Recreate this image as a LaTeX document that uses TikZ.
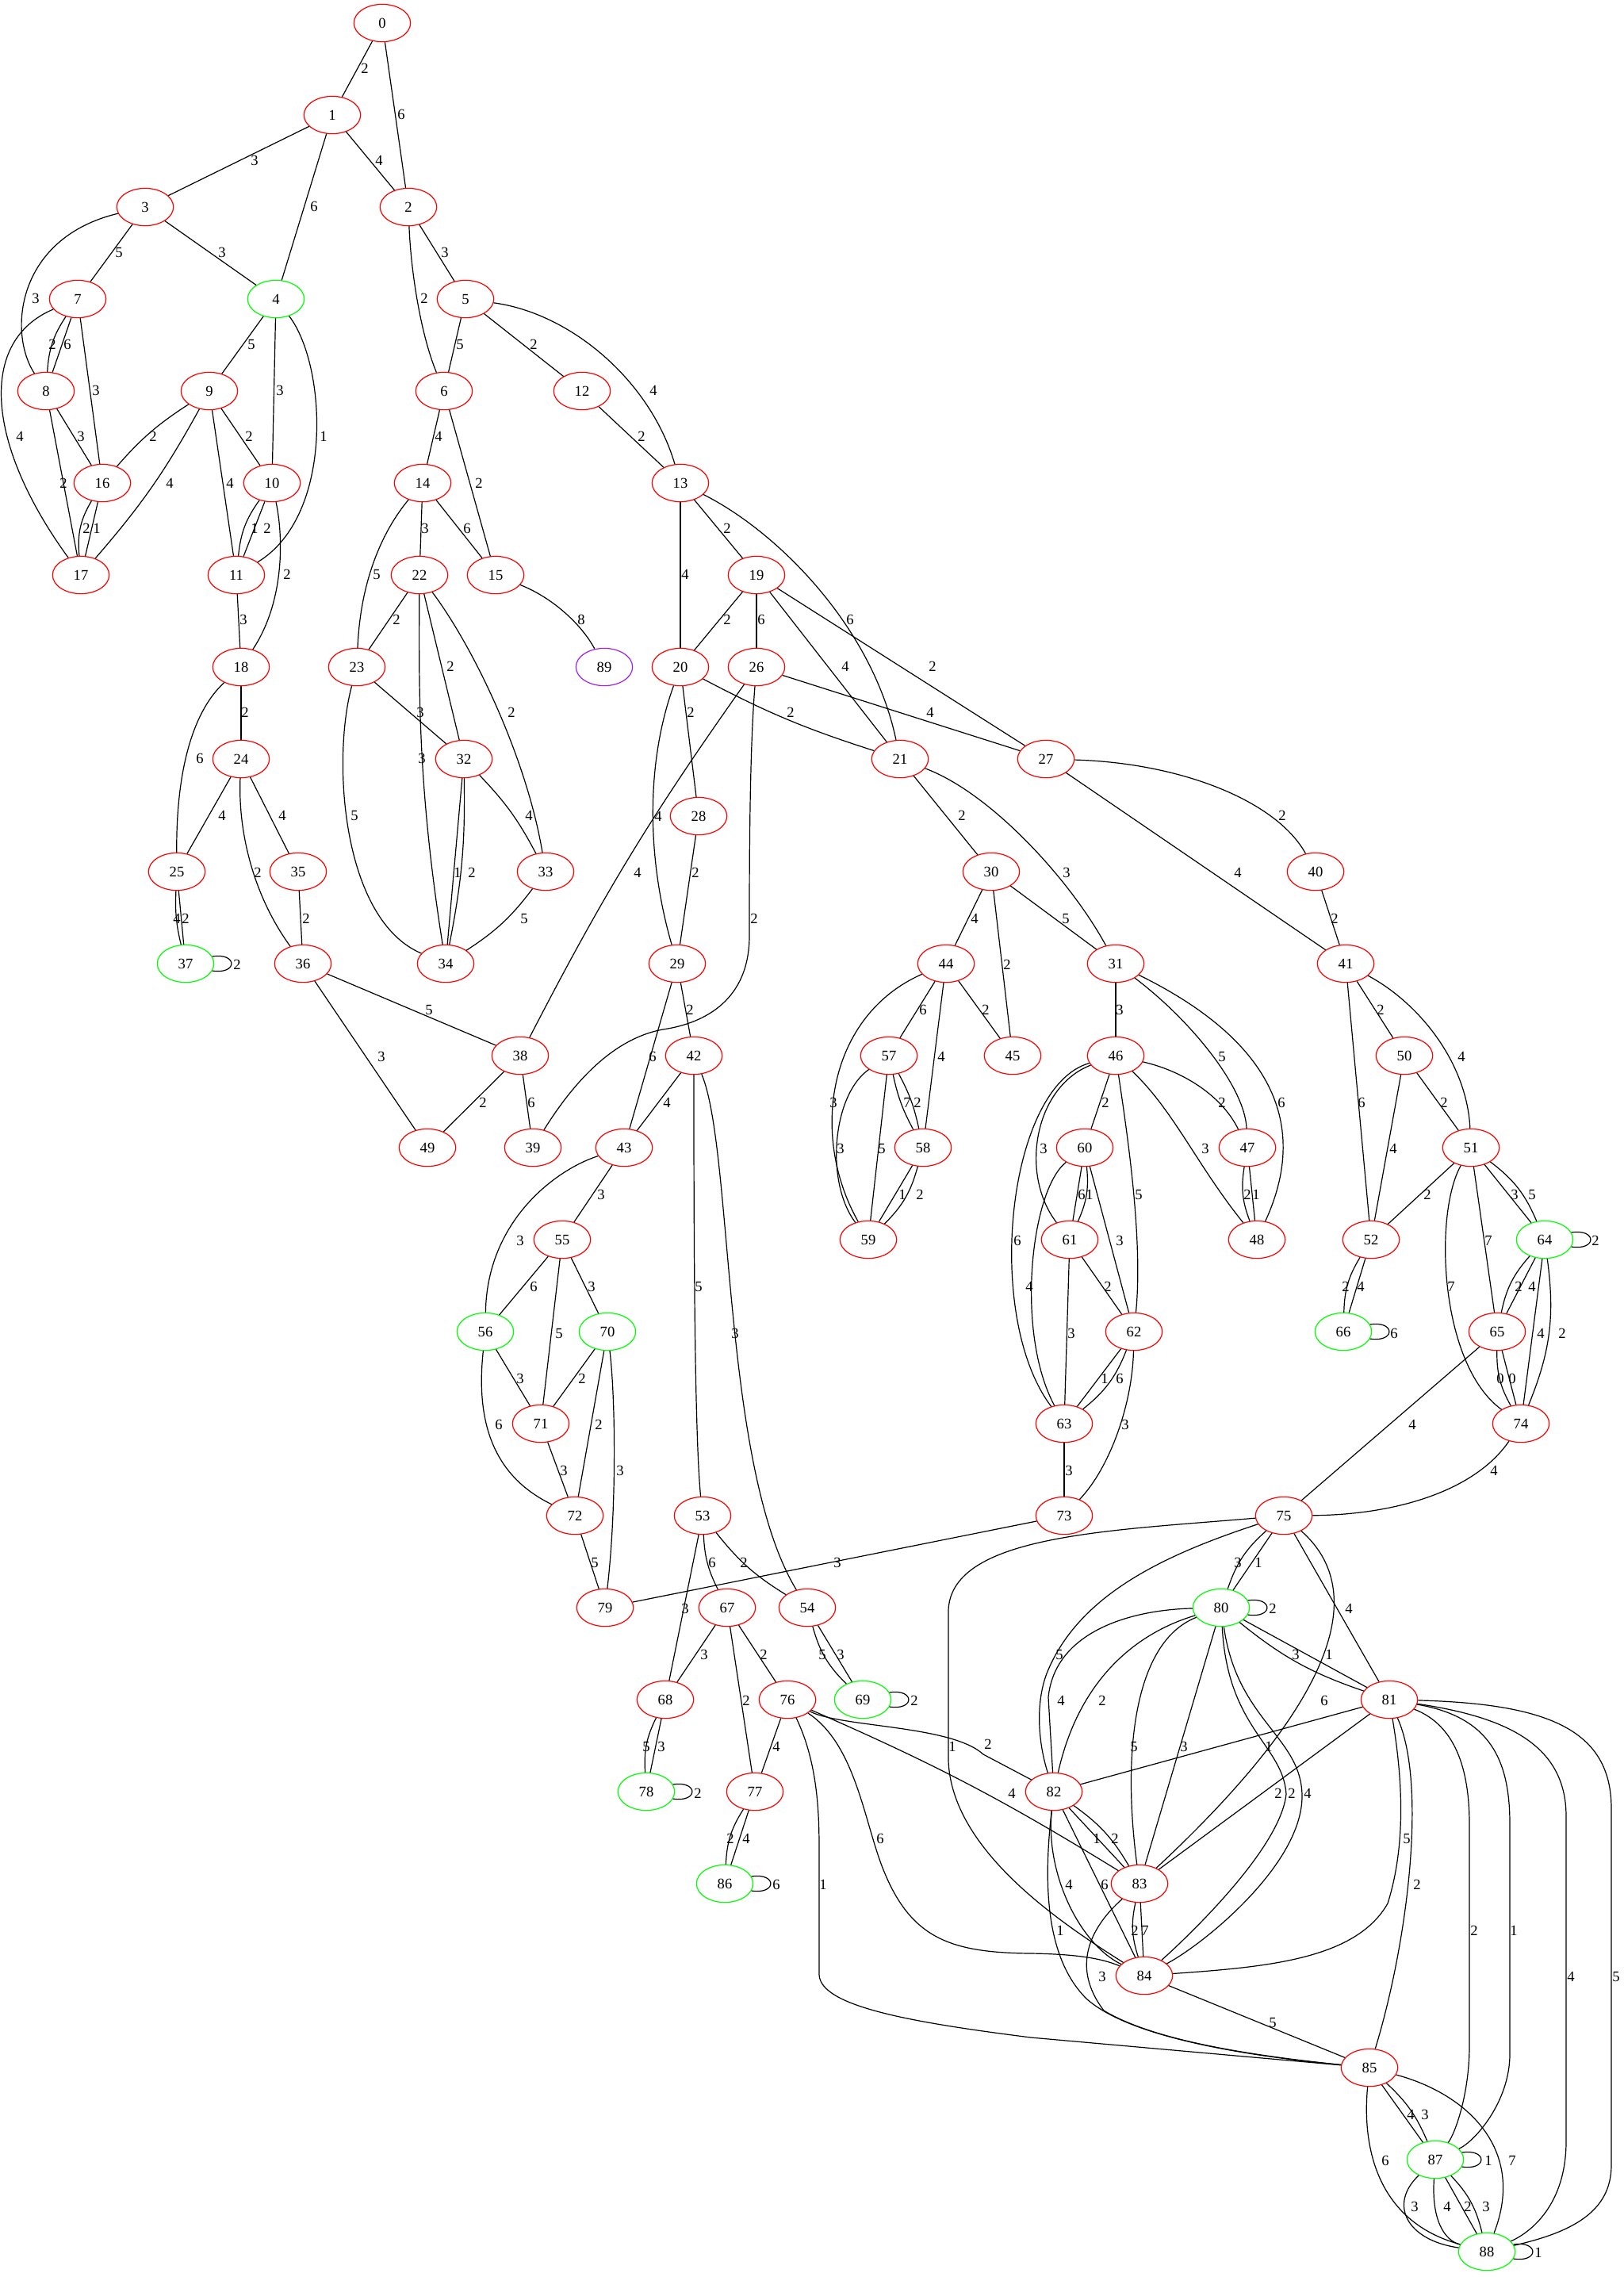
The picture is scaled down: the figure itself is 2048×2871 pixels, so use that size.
\documentclass[tikz,border=0pt]{standalone}
\usepackage{fontspec}
\setmainfont{Liberation Serif}
\usetikzlibrary{shapes.geometric}
\definecolor{gvred}{RGB}{255,0,0}
\definecolor{gvgreen}{RGB}{0,255,0}
\definecolor{gvpurple}{RGB}{160,32,240}
\tikzset{
  gnode/.style={ellipse, draw, line width=0.6pt, minimum width=35.7pt, minimum height=23.6pt, inner sep=0pt},
  rn/.style={gnode, draw=gvred},
  gn/.style={gnode, draw=gvgreen},
  pn/.style={gnode, draw=gvpurple},
  ed/.style={draw=black, line width=0.6pt},
  lb/.style={inner sep=0pt, text=black}
}
\begin{document}
\begin{tikzpicture}[x=0.5pt,y=-0.5pt,font=\fontsize{9.3}{11}\selectfont]
\fill[white] (0,0) rectangle (2048,2871);
\useasboundingbox (0,0) rectangle (2048,2871);
% nodes
\node[rn] (n0) at (482,29) {0};
\node[rn] (n1) at (419,145) {1};
\node[rn] (n3) at (183,261) {3};
\node[rn] (n2) at (515,261) {2};
\node[rn] (n7) at (98,377) {7};
\node[gn] (n4) at (348,377) {4};
\node[rn] (n5) at (587,377) {5};
\node[rn] (n8) at (58,493) {8};
\node[rn] (n9) at (264,493) {9};
\node[rn] (n6) at (560,493) {6};
\node[rn] (n12) at (734,493) {12};
\node[rn] (n16) at (129,609) {16};
\node[rn] (n10) at (343,609) {10};
\node[rn] (n14) at (533,609) {14};
\node[rn] (n13) at (858,609) {13};
\node[rn] (n17) at (102,725) {17};
\node[rn] (n11) at (298,725) {11};
\node[rn] (n22) at (529,725) {22};
\node[rn] (n15) at (625,725) {15};
\node[rn] (n19) at (954,725) {19};
\node[rn] (n18) at (304,841) {18};
\node[rn] (n23) at (450,841) {23};
\node[pn] (n89) at (762,841) {89};
\node[rn] (n20) at (858,841) {20};
\node[rn] (n26) at (954,841) {26};
\node[rn] (n24) at (304,957) {24};
\node[rn] (n32) at (585,957) {32};
\node[rn] (n21) at (1135,957) {21};
\node[rn] (n27) at (1319,957) {27};
\node[rn] (n28) at (881,1029) {28};
\node[rn] (n25) at (223,1099) {25};
\node[rn] (n35) at (376,1099) {35};
\node[rn] (n33) at (688,1099) {33};
\node[rn] (n30) at (1250,1099) {30};
\node[rn] (n40) at (1659,1099) {40};
\node[gn] (n37) at (234,1215) {37};
\node[rn] (n36) at (382,1215) {36};
\node[rn] (n34) at (562,1215) {34};
\node[rn] (n29) at (854,1215) {29};
\node[rn] (n44) at (1193,1215) {44};
\node[rn] (n31) at (1407,1215) {31};
\node[rn] (n41) at (1697,1215) {41};
\node[rn] (n38) at (656,1331) {38};
\node[rn] (n42) at (875,1331) {42};
\node[rn] (n57) at (1121,1331) {57};
\node[rn] (n45) at (1277,1331) {45};
\node[rn] (n46) at (1407,1331) {46};
\node[rn] (n50) at (1771,1331) {50};
\node[rn] (n49) at (539,1447) {49};
\node[rn] (n39) at (672,1447) {39};
\node[rn] (n43) at (787,1447) {43};
\node[rn] (n58) at (1164,1447) {58};
\node[rn] (n60) at (1368,1447) {60};
\node[rn] (n47) at (1573,1447) {47};
\node[rn] (n51) at (1855,1447) {51};
\node[rn] (n55) at (709,1563) {55};
\node[rn] (n59) at (1095,1563) {59};
\node[rn] (n61) at (1349,1563) {61};
\node[rn] (n48) at (1585,1563) {48};
\node[rn] (n52) at (1729,1563) {52};
\node[gn] (n64) at (1948,1563) {64};
\node[gn] (n56) at (612,1679) {56};
\node[gn] (n70) at (766,1679) {70};
\node[rn] (n62) at (1430,1679) {62};
\node[gn] (n66) at (1694,1679) {66};
\node[rn] (n65) at (1888,1679) {65};
\node[rn] (n71) at (682,1795) {71};
\node[rn] (n63) at (1342,1795) {63};
\node[rn] (n74) at (1918,1795) {74};
\node[rn] (n72) at (725,1911) {72};
\node[rn] (n53) at (886,1911) {53};
\node[rn] (n73) at (1342,1911) {73};
\node[rn] (n75) at (1619,1911) {75};
\node[rn] (n79) at (763,2027) {79};
\node[rn] (n67) at (917,2027) {67};
\node[rn] (n54) at (1018,2027) {54};
\node[gn] (n80) at (1540,2027) {80};
\node[rn] (n68) at (839,2143) {68};
\node[rn] (n76) at (993,2143) {76};
\node[gn] (n69) at (1088,2143) {69};
\node[rn] (n81) at (1752,2143) {81};
\node[gn] (n78) at (815,2259) {78};
\node[rn] (n77) at (952,2259) {77};
\node[rn] (n82) at (1329,2259) {82};
\node[gn] (n86) at (914,2375) {86};
\node[rn] (n83) at (1437,2375) {83};
\node[rn] (n84) at (1443,2491) {84};
\node[rn] (n85) at (1727,2607) {85};
\node[gn] (n87) at (1810,2723) {87};
\node[gn] (n88) at (1875,2839) {88};
% edges
\draw[ed] (n0) -- (n1) node[lb] at (460,86) {2};
\draw[ed] (n0) -- (n2) node[lb] at (506,144) {6};
\draw[ed] (n1) -- (n3) node[lb] at (321,202) {3};
\draw[ed] (n1) -- (n4) node[lb] at (396,260) {6};
\draw[ed] (n1) -- (n2) node[lb] at (478,202) {4};
\draw[ed] (n3) -- (n7) node[lb] at (150,318) {5};
\draw[ed] (n3) -- (n4) node[lb] at (280,318) {3};
\draw[ed] (n3) .. controls (20,300) and (10,420) .. (n8) node[lb] at (45,376) {3};
\draw[ed] (n2) -- (n5) node[lb] at (561,318) {3};
\draw[ed] (n2) .. controls (518,340) and (530,420) .. (n6) node[lb] at (535,376) {2};
\draw[ed] (n7) to[bend right=15] (n8) node[lb] at (66,434) {2};
\draw[ed] (n7) -- (n8) node[lb] at (85,434) {6};
\draw[ed] (n7) -- (n16) node[lb] at (121,492) {3};
\draw[ed] (n7) .. controls (-28,430) and (-18,560) .. (n17) node[lb] at (25,550) {4};
\draw[ed] (n4) -- (n9) node[lb] at (317,434) {5};
\draw[ed] (n4) -- (n10) node[lb] at (353,492) {3};
\draw[ed] (n4) .. controls (412,460) and (422,650) .. (n11) node[lb] at (408,550) {1};
\draw[ed] (n5) -- (n6) node[lb] at (580,434) {5};
\draw[ed] (n5) -- (n12) node[lb] at (673,434) {2};
\draw[ed] (n5) .. controls (720,395) and (820,480) .. (n13) node[lb] at (824,492) {4};
\draw[ed] (n8) -- (n16) node[lb] at (102,550) {3};
\draw[ed] (n8) -- (n17) node[lb] at (80,609) {2};
\draw[ed] (n9) to[bend right=8] (n16) node[lb] at (193,550) {2};
\draw[ed] (n9) to[bend left=6] (n17) node[lb] at (214,609) {4};
\draw[ed] (n9) -- (n11) node[lb] at (290,609) {4};
\draw[ed] (n9) -- (n10) node[lb] at (314,550) {2};
\draw[ed] (n6) -- (n14) node[lb] at (553,550) {4};
\draw[ed] (n6) -- (n15) node[lb] at (604,609) {2};
\draw[ed] (n16) to[bend right=18] (n17) node[lb] at (109,666) {2};
\draw[ed] (n16) -- (n17) node[lb] at (122,666) {1};
\draw[ed] (n10) to[bend right=15] (n11) node[lb] at (321,666) {1};
\draw[ed] (n10) -- (n11) node[lb] at (337,666) {2};
\draw[ed] (n10) .. controls (358,680) and (358,760) .. (n18) node[lb] at (362,724) {2};
\draw[ed] (n14) .. controls (490,660) and (455,720) .. (n23) node[lb] at (475,724) {5};
\draw[ed] (n14) -- (n22) node[lb] at (536,666) {3};
\draw[ed] (n14) -- (n15) node[lb] at (589,666) {6};
\draw[ed] (n12) -- (n13) node[lb] at (809,550) {2};
\draw[ed] (n13) -- (n20) node[lb] at (864,724) {4};
\draw[ed] (n13) -- (n19) node[lb] at (917,666) {2};
\draw[ed] (n13) .. controls (980,670) and (1100,790) .. (n21) node[lb] at (1072,781) {6};
\draw[ed] (n15) .. controls (700,755) and (735,790) .. (n89) node[lb] at (733,781) {8};
\draw[ed] (n19) -- (n20) node[lb] at (917,781) {2};
\draw[ed] (n19) -- (n26) node[lb] at (960,781) {6};
\draw[ed] (n19) -- (n21) node[lb] at (1066,840) {4};
\draw[ed] (n19) -- (n27) node[lb] at (1176,840) {2};
\draw[ed] (n11) -- (n18) node[lb] at (307,781) {3};
\draw[ed] (n18) -- (n24) node[lb] at (309,898) {2};
\draw[ed] (n18) .. controls (240,900) and (222,980) .. (n25) node[lb] at (252,956) {6};
\draw[ed] (n22) -- (n23) node[lb] at (500,781) {2};
\draw[ed] (n22) .. controls (528,880) and (528,1000) .. (n34) node[lb] at (532,956) {3};
\draw[ed] (n22) -- (n32) node[lb] at (568,840) {2};
\draw[ed] (n22) .. controls (600,820) and (665,960) .. (n33) node[lb] at (645,898) {2};
\draw[ed] (n23) -- (n32) node[lb] at (530,898) {3};
\draw[ed] (n23) .. controls (418,960) and (432,1160) .. (n34) node[lb] at (447,1028) {5};
\draw[ed] (n24) -- (n25) node[lb] at (280,1028) {4};
\draw[ed] (n24) -- (n35) node[lb] at (356,1028) {4};
\draw[ed] (n24) .. controls (300,1050) and (320,1130) .. (n36) node[lb] at (325,1100) {2};
\draw[ed] (n32) -- (n34) node[lb] at (577,1100) {1};
\draw[ed] (n32) to[bend left=6] (n34) node[lb] at (595,1100) {2};
\draw[ed] (n32) to[bend left=8] (n33) node[lb] at (667,1028) {4};
\draw[ed] (n25) to[bend right=8] (n37) node[lb] at (223,1158) {4};
\draw[ed] (n25) -- (n37) node[lb] at (234,1158) {2};
\draw[ed] (n37.15) .. controls (300,1201) and (300,1229) .. (n37.-15) node[lb] at (299,1216) {2};
\draw[ed] (n35) -- (n36) node[lb] at (386,1158) {2};
\draw[ed] (n33) to[bend left=10] (n34) node[lb] at (661,1158) {5};
\draw[ed] (n36) -- (n38) node[lb] at (541,1273) {5};
\draw[ed] (n36) -- (n49) node[lb] at (481,1332) {3};
\draw[ed] (n38) -- (n49) node[lb] at (609,1390) {2};
\draw[ed] (n38) -- (n39) node[lb] at (670,1390) {6};
\draw[ed] (n26) to[bend right=4] (n38) node[lb] at (804,1100) {4};
\draw[ed] (n20) -- (n28) node[lb] at (871,898) {2};
\draw[ed] (n20) to[bend right=5] (n21) node[lb] at (997,898) {2};
\draw[ed] (n20) .. controls (815,960) and (815,1080) .. (n29) node[lb] at (830,1029) {4};
\draw[ed] (n26) -- (n27) node[lb] at (1173,898) {4};
\draw[ed] (n26) .. controls (945,950) and (945,1100) .. (945,1180) .. controls (945,1260) and (890,1290) .. (836,1298) .. controls (770,1310) and (720,1370) .. (n39) node[lb] at (951,1158) {2};
\draw[ed] (n21) -- (n30) node[lb] at (1213,1028) {2};
\draw[ed] (n21) .. controls (1250,1000) and (1350,1110) .. (n31) node[lb] at (1345,1100) {3};
\draw[ed] (n27) .. controls (1490,962) and (1610,1010) .. (n40) node[lb] at (1617,1028) {2};
\draw[ed] (n27) -- (n41) node[lb] at (1561,1100) {4};
\draw[ed] (n28) -- (n29) node[lb] at (877,1100) {2};
\draw[ed] (n29) -- (n42) node[lb] at (870,1273) {2};
\draw[ed] (n29) -- (n43) node[lb] at (823,1332) {6};
\draw[ed] (n30) -- (n44) node[lb] at (1229,1158) {4};
\draw[ed] (n30) -- (n45) node[lb] at (1270,1216) {2};
\draw[ed] (n30) -- (n31) node[lb] at (1344,1158) {5};
\draw[ed] (n40) -- (n41) node[lb] at (1683,1158) {2};
\draw[ed] (n41) -- (n50) node[lb] at (1741,1273) {2};
\draw[ed] (n41) -- (n52) node[lb] at (1717,1390) {6};
\draw[ed] (n41) .. controls (1790,1265) and (1850,1340) .. (n51) node[lb] at (1843,1332) {4};
\draw[ed] (n31) -- (n46) node[lb] at (1412,1273) {3};
\draw[ed] (n31) .. controls (1500,1285) and (1570,1370) .. (n47) node[lb] at (1541,1332) {5};
\draw[ed] (n31) .. controls (1580,1300) and (1660,1400) .. (n48) node[lb] at (1616,1390) {6};
\draw[ed] (n44) -- (n57) node[lb] at (1164,1273) {6};
\draw[ed] (n44) -- (n45) node[lb] at (1243,1273) {2};
\draw[ed] (n44) -- (n58) node[lb] at (1187,1332) {4};
\draw[ed] (n44) .. controls (1045,1280) and (1020,1430) .. (n59) node[lb] at (1051,1390) {3};
\draw[ed] (n42) -- (n43) node[lb] at (841,1390) {4};
\draw[ed] (n42) .. controls (875,1500) and (875,1800) .. (n53) node[lb] at (881,1622) {5};
\draw[ed] (n42) .. controls (925,1450) and (910,1850) .. (n54) node[lb] at (927,1681) {3};
\draw[ed] (n57) .. controls (1050,1380) and (1040,1490) .. (n59) node[lb] at (1060,1448) {3};
\draw[ed] (n57) -- (n59) node[lb] at (1112,1448) {5};
\draw[ed] (n57) to[bend right=8] (n58) node[lb] at (1144,1390) {7};
\draw[ed] (n57) to[bend left=8] (n58) node[lb] at (1157,1390) {2};
\draw[ed] (n58) -- (n59) node[lb] at (1138,1506) {1};
\draw[ed] (n58) to[bend left=15] (n59) node[lb] at (1160,1506) {2};
\draw[ed] (n46) -- (n60) node[lb] at (1394,1390) {2};
\draw[ed] (n46) .. controls (1305,1370) and (1285,1480) .. (n61) node[lb] at (1316,1448) {3};
\draw[ed] (n46) .. controls (1270,1370) and (1240,1660) .. (n63) node[lb] at (1283,1564) {6};
\draw[ed] (n46) .. controls (1420,1420) and (1442,1560) .. (n62) node[lb] at (1436,1506) {5};
\draw[ed] (n46) .. controls (1490,1350) and (1540,1380) .. (n47) node[lb] at (1541,1390) {2};
\draw[ed] (n46) .. controls (1480,1400) and (1510,1470) .. (n48) node[lb] at (1520,1448) {3};
\draw[ed] (n47) to[bend right=15] (n48) node[lb] at (1573,1506) {2};
\draw[ed] (n47) -- (n48) node[lb] at (1584,1506) {1};
\draw[ed] (n50) -- (n51) node[lb] at (1821,1390) {2};
\draw[ed] (n50) -- (n52) node[lb] at (1757,1448) {4};
\draw[ed] (n51) -- (n52) node[lb] at (1800,1506) {2};
\draw[ed] (n51) -- (n64) node[lb] at (1910,1506) {3};
\draw[ed] (n51) to[bend left=15] (n64) node[lb] at (1932,1506) {5};
\draw[ed] (n51) -- (n65) node[lb] at (1877,1564) {7};
\draw[ed] (n51) .. controls (1808,1530) and (1815,1720) .. (n74) node[lb] at (1830,1622) {7};
\draw[ed] (n60) -- (n61) node[lb] at (1364,1506) {6};
\draw[ed] (n60) to[bend left=15] (n61) node[lb] at (1374,1506) {1};
\draw[ed] (n60) .. controls (1300,1500) and (1280,1680) .. (n63) node[lb] at (1298,1622) {4};
\draw[ed] (n60) -- (n62) node[lb] at (1412,1564) {3};
\draw[ed] (n61) -- (n62) node[lb] at (1397,1622) {2};
\draw[ed] (n61) -- (n63) node[lb] at (1351,1681) {3};
\draw[ed] (n62) -- (n63) node[lb] at (1393,1738) {1};
\draw[ed] (n62) to[bend left=15] (n63) node[lb] at (1412,1738) {6};
\draw[ed] (n62) .. controls (1428,1770) and (1400,1850) .. (n73) node[lb] at (1419,1796) {3};
\draw[ed] (n52) to[bend right=15] (n66) node[lb] at (1697,1622) {2};
\draw[ed] (n52) -- (n66) node[lb] at (1716,1622) {4};
\draw[ed] (n66.15) .. controls (1760,1665) and (1760,1693) .. (n66.-15) node[lb] at (1758,1681) {6};
\draw[ed] (n64.15) .. controls (2014,1549) and (2014,1577) .. (n64.-15) node[lb] at (2012,1564) {2};
\draw[ed] (n64) to[bend right=15] (n65) node[lb] at (1915,1622) {2};
\draw[ed] (n64) -- (n65) node[lb] at (1932,1622) {4};
\draw[ed] (n64) -- (n74) node[lb] at (1943,1681) {4};
\draw[ed] (n64) to[bend left=15] (n74) node[lb] at (1970,1681) {2};
\draw[ed] (n65) to[bend right=15] (n74) node[lb] at (1892,1738) {0};
\draw[ed] (n65) -- (n74) node[lb] at (1907,1738) {0};
\draw[ed] (n65) -- (n75) node[lb] at (1781,1796) {4};
\draw[ed] (n74) .. controls (1860,1880) and (1760,1910) .. (n75) node[lb] at (1884,1854) {4};
\draw[ed] (n43) -- (n55) node[lb] at (758,1506) {3};
\draw[ed] (n43) .. controls (700,1475) and (614,1540) .. (n56) node[lb] at (656,1564) {3};
\draw[ed] (n55) -- (n56) node[lb] at (673,1622) {6};
\draw[ed] (n55) -- (n71) node[lb] at (705,1681) {5};
\draw[ed] (n55) -- (n70) node[lb] at (746,1622) {3};
\draw[ed] (n56) -- (n71) node[lb] at (656,1738) {3};
\draw[ed] (n56) .. controls (600,1790) and (620,1860) .. (n72) node[lb] at (629,1796) {6};
\draw[ed] (n70) -- (n71) node[lb] at (734,1738) {2};
\draw[ed] (n70) -- (n72) node[lb] at (755,1796) {2};
\draw[ed] (n70) .. controls (776,1760) and (778,1900) .. (n79) node[lb] at (782,1854) {3};
\draw[ed] (n71) -- (n72) node[lb] at (711,1854) {3};
\draw[ed] (n72) -- (n79) node[lb] at (750,1970) {5};
\draw[ed] (n63) -- (n73) node[lb] at (1348,1854) {3};
\draw[ed] (n73) -- (n79) node[lb] at (1056,1970) {3};
\draw[ed] (n53) -- (n68) node[lb] at (864,2028) {3};
\draw[ed] (n53) to[bend right=12] (n67) node[lb] at (898,1970) {6};
\draw[ed] (n53) to[bend right=10] (n54) node[lb] at (938,1970) {2};
\draw[ed] (n54) to[bend right=15] (n69) node[lb] at (1037,2086) {5};
\draw[ed] (n54) -- (n69) node[lb] at (1060,2086) {3};
\draw[ed] (n69.15) .. controls (1154,2129) and (1154,2157) .. (n69.-15) node[lb] at (1153,2144) {2};
\draw[ed] (n67) -- (n68) node[lb] at (888,2086) {3};
\draw[ed] (n67) -- (n77) node[lb] at (941,2144) {2};
\draw[ed] (n67) -- (n76) node[lb] at (963,2086) {2};
\draw[ed] (n68) to[bend right=15] (n78) node[lb] at (815,2202) {5};
\draw[ed] (n68) -- (n78) node[lb] at (834,2202) {3};
\draw[ed] (n78.15) .. controls (881,2245) and (881,2273) .. (n78.-15) node[lb] at (880,2261) {2};
\draw[ed] (n76) -- (n77) node[lb] at (979,2202) {4};
\draw[ed] (n77) to[bend right=15] (n86) node[lb] at (921,2318) {2};
\draw[ed] (n77) -- (n86) node[lb] at (941,2318) {4};
\draw[ed] (n86.15) .. controls (980,2361) and (980,2389) .. (n86.-15) node[lb] at (979,2376) {6};
\draw[ed] (n76) .. controls (1030,2220) and (1033,2280) .. (1033,2330) -- (1033,2490) .. controls (1035,2530) and (1150,2550) .. (1300,2569) -- (n85) node[lb] at (1038,2376) {1};
\draw[ed] (n76) .. controls (1080,2200) and (1090,2300) .. (1115,2360) .. controls (1150,2445) and (1200,2462) .. (1300,2463) .. controls (1370,2464) and (1395,2472) .. (n84) node[lb] at (1110,2318) {6};
\draw[ed] (n76) to[bend left=4] (n83) node[lb] at (1276,2261) {4};
\draw[ed] (n76) .. controls (1060,2178) and (1200,2175) .. (1240,2212) -- (n82) node[lb] at (1246,2199) {2};
\draw[ed] (n75) .. controls (1400,1930) and (1200,1935) .. (1196,2030) -- (1196,2220) .. controls (1200,2330) and (1330,2420) .. (n84) node[lb] at (1201,2202) {1};
\draw[ed] (n75) to[bend right=15] (n80) node[lb] at (1561,1970) {3};
\draw[ed] (n75) -- (n80) node[lb] at (1587,1970) {1};
\draw[ed] (n75) -- (n81) node[lb] at (1701,2028) {4};
\draw[ed] (n75) .. controls (1470,1960) and (1360,2010) .. (1320,2110) .. controls (1305,2150) and (1310,2200) .. (n82) node[lb] at (1336,2086) {5};
\draw[ed] (n75) .. controls (1720,2000) and (1700,2130) .. (n83) node[lb] at (1670,2144) {6};
\draw[ed] (n80.15) .. controls (1606,2013) and (1606,2041) .. (n80.-15) node[lb] at (1605,2028) {2};
\draw[ed] (n80) to[bend right=10] (n81) node[lb] at (1634,2086) {3};
\draw[ed] (n80) -- (n81) node[lb] at (1676,2086) {1};
\draw[ed] (n80) .. controls (1420,2030) and (1330,2060) .. (1322,2140) -- (n82) node[lb] at (1338,2144) {4};
\draw[ed] (n80) .. controls (1430,2060) and (1360,2120) .. (n82) node[lb] at (1390,2144) {2};
\draw[ed] (n80) .. controls (1430,2070) and (1415,2210) .. (n83) node[lb] at (1430,2202) {5};
\draw[ed] (n80) -- (n83) node[lb] at (1493,2202) {3};
\draw[ed] (n80) .. controls (1548,2180) and (1618,2200) .. (1622,2262) .. controls (1615,2330) and (1500,2440) .. (n84) node[lb] at (1629,2261) {2};
\draw[ed] (n80) .. controls (1560,2170) and (1642,2190) .. (1642,2265) .. controls (1642,2350) and (1520,2450) .. (n84) node[lb] at (1649,2261) {4};
\draw[ed] (n81) -- (n82) node[lb] at (1600,2202) {1};
\draw[ed] (n81) -- (n83) node[lb] at (1612,2261) {2};
\draw[ed] (n81) .. controls (1770,2250) and (1772,2330) .. (1750,2400) .. controls (1710,2470) and (1600,2480) .. (n84) node[lb] at (1774,2318) {5};
\draw[ed] (n81) .. controls (1800,2250) and (1775,2450) .. (n85) node[lb] at (1787,2376) {2};
\draw[ed] (n81) .. controls (1835,2175) and (1853,2230) .. (1853,2300) -- (1853,2580) .. controls (1853,2640) and (1835,2690) .. (n87) node[lb] at (1859,2434) {2};
\draw[ed] (n81) .. controls (1880,2165) and (1904,2220) .. (1904,2300) -- (1904,2590) .. controls (1904,2650) and (1860,2700) .. (n87) node[lb] at (1909,2434) {1};
\draw[ed] (n81) .. controls (1900,2165) and (1975,2200) .. (1975,2290) -- (1975,2700) .. controls (1975,2780) and (1930,2815) .. (n88) node[lb] at (1981,2492) {4};
\draw[ed] (n81) .. controls (1950,2148) and (2032,2180) .. (2032,2280) -- (2032,2730) .. controls (2032,2790) and (1980,2815) .. (n88) node[lb] at (2038,2492) {5};
\draw[ed] (n82) -- (n83) node[lb] at (1383,2318) {1};
\draw[ed] (n82) to[bend left=12] (n83) node[lb] at (1406,2318) {2};
\draw[ed] (n82) .. controls (1318,2360) and (1360,2450) .. (n84) node[lb] at (1348,2376) {4};
\draw[ed] (n82) -- (n84) node[lb] at (1393,2376) {6};
\draw[ed] (n82) .. controls (1315,2380) and (1320,2470) .. (1370,2520) .. controls (1420,2565) and (1550,2590) .. (n85) node[lb] at (1337,2434) {1};
\draw[ed] (n83) to[bend right=15] (n84) node[lb] at (1431,2434) {2};
\draw[ed] (n83) -- (n84) node[lb] at (1444,2434) {7};
\draw[ed] (n83) .. controls (1375,2430) and (1350,2480) .. (1392,2535) .. controls (1450,2570) and (1560,2590) .. (n85) node[lb] at (1390,2492) {3};
\draw[ed] (n84) -- (n85) node[lb] at (1605,2550) {5};
\draw[ed] (n85) -- (n87) node[lb] at (1779,2666) {4};
\draw[ed] (n85) to[bend left=12] (n87) node[lb] at (1797,2666) {3};
\draw[ed] (n85) .. controls (1718,2700) and (1732,2800) .. (n88) node[lb] at (1747,2724) {6};
\draw[ed] (n85) .. controls (1850,2640) and (1925,2710) .. (n88) node[lb] at (1907,2724) {7};
\draw[ed] (n87.15) .. controls (1876,2709) and (1876,2737) .. (n87.-15) node[lb] at (1877,2724) {1};
\draw[ed] (n87) .. controls (1750,2780) and (1775,2825) .. (n88) node[lb] at (1784,2782) {3};
\draw[ed] (n87) .. controls (1805,2800) and (1822,2825) .. (n88) node[lb] at (1825,2782) {4};
\draw[ed] (n87) -- (n88) node[lb] at (1851,2782) {2};
\draw[ed] (n87) to[bend left=15] (n88) node[lb] at (1874,2782) {3};
\draw[ed] (n88.15) .. controls (1941,2825) and (1941,2853) .. (n88.-15) node[lb] at (1940,2840) {1};
\end{tikzpicture}
\end{document}
